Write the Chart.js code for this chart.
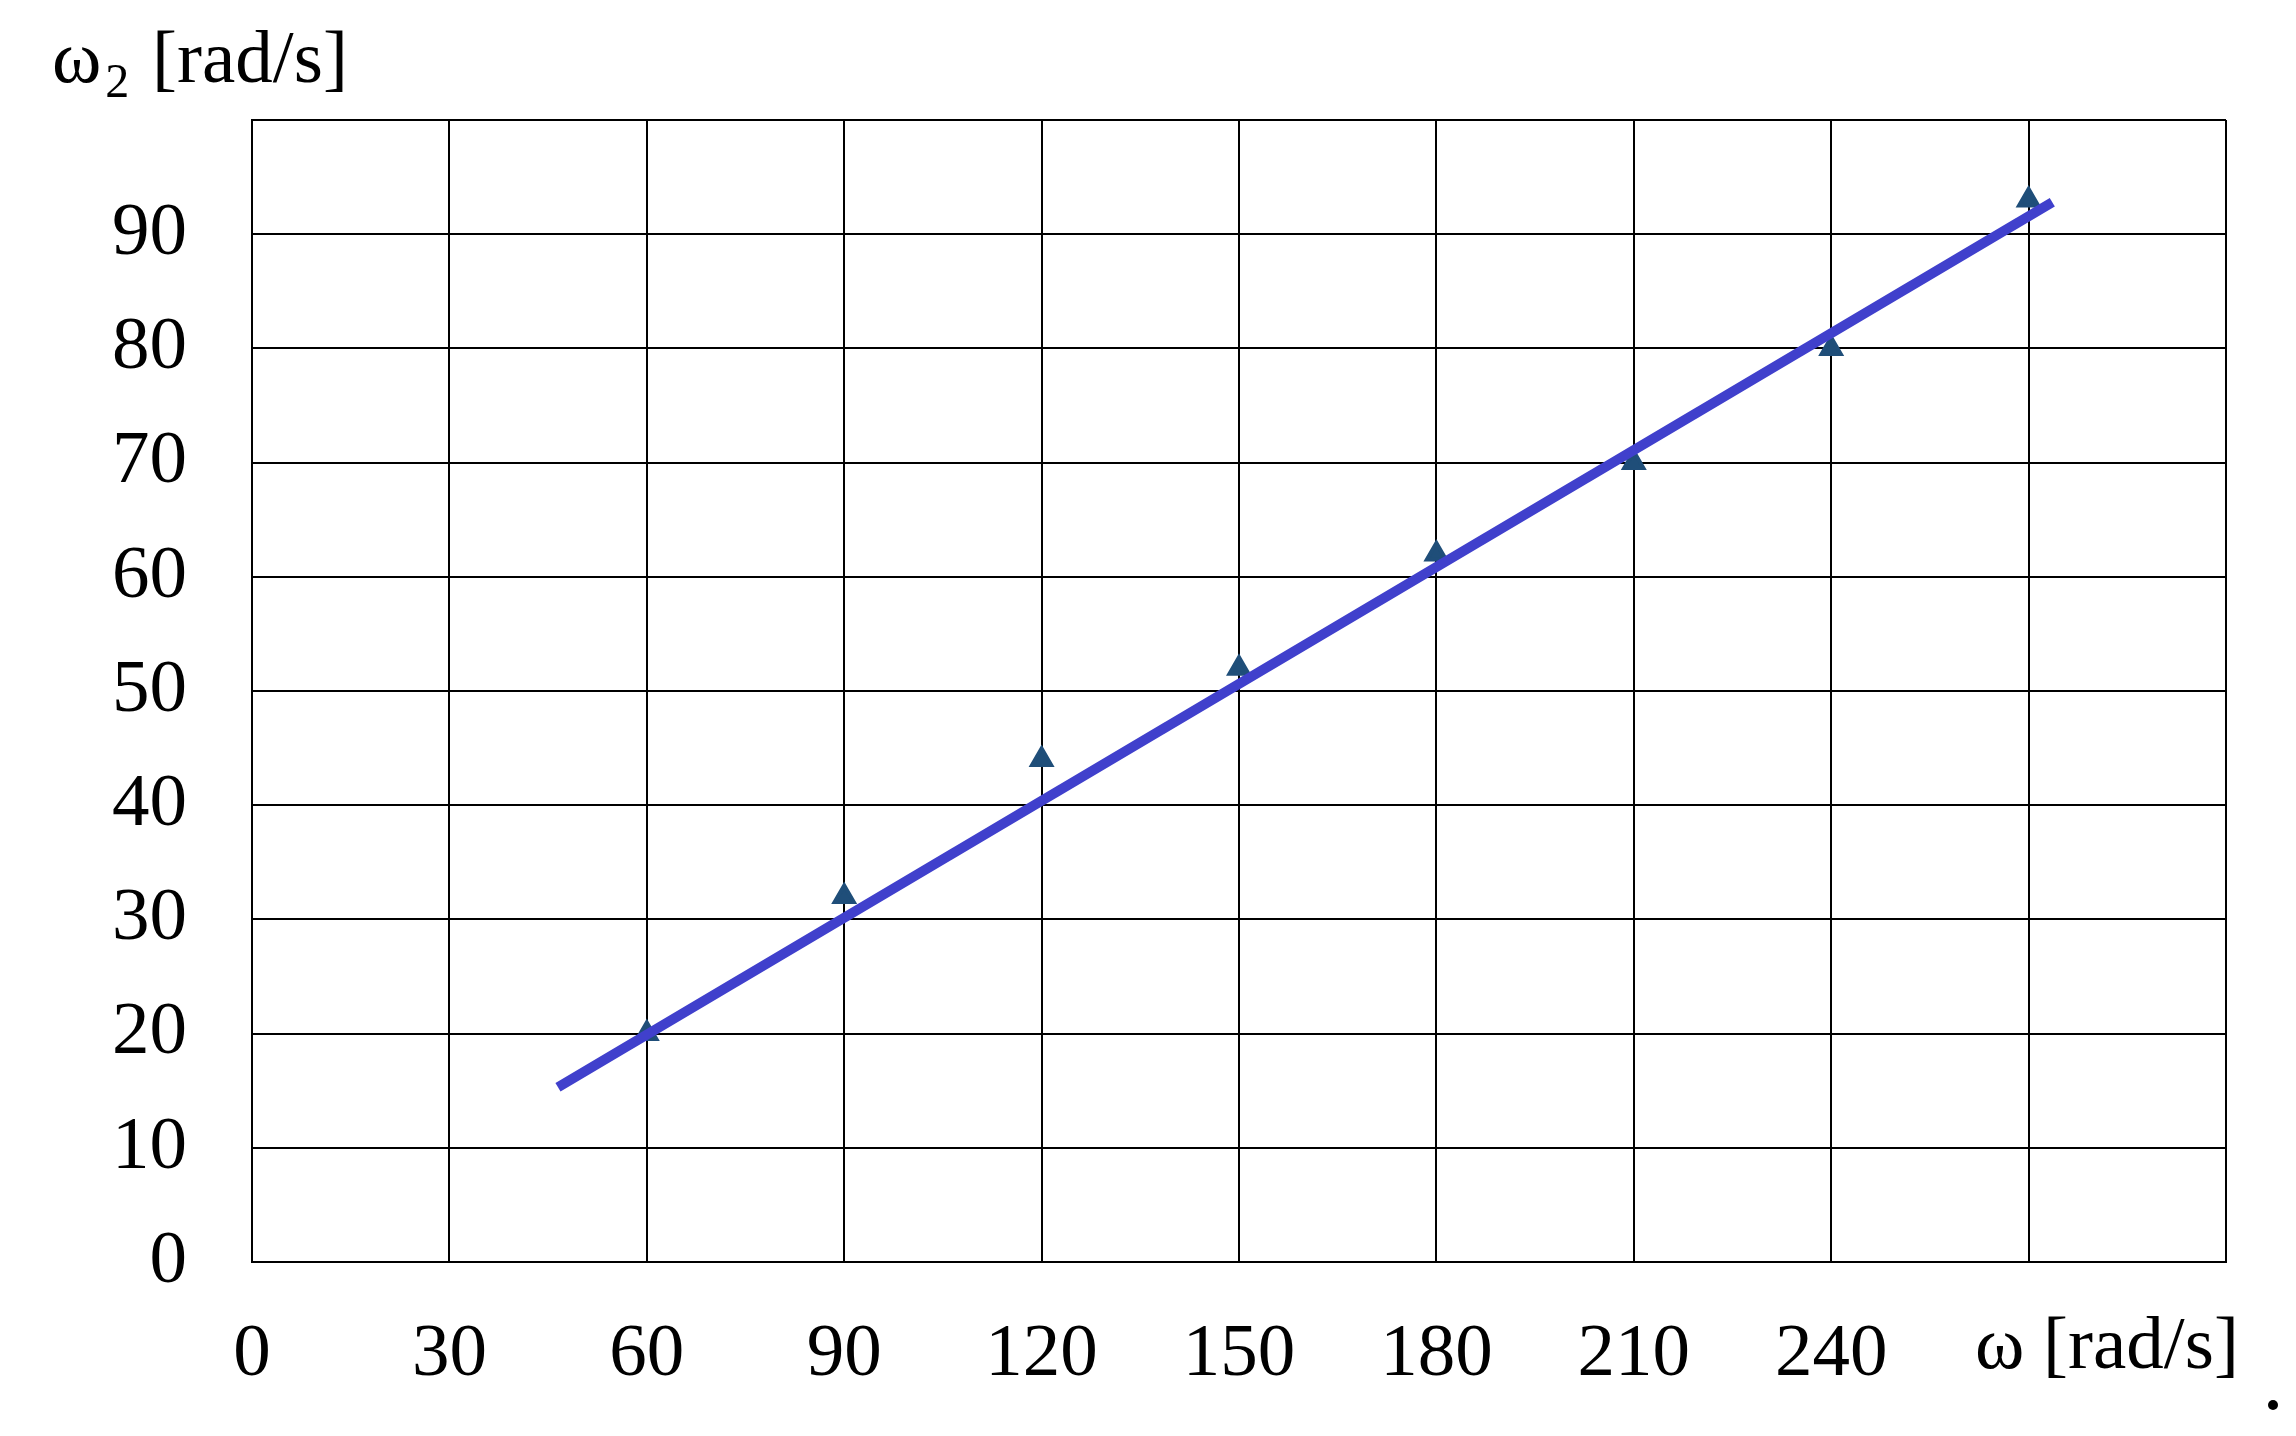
<!DOCTYPE html>
<html>
<head>
<meta charset="utf-8">
<script src="https://cdn.jsdelivr.net/npm/chart.js@4/dist/chart.umd.min.js"></script>
<style>
  html, body { margin: 0; padding: 0; background: #fff; }
  #wrap { width: 2296px; height: 1436px; }
</style>
</head>
<body>
<div id="wrap"><canvas id="chart-omega"></canvas></div>
<script>
// measured points
const omega = [60, 90, 120, 150, 180, 210, 240, 270];
const omega2 = [20, 32, 44, 52, 62, 70, 80, 93];

// fitted line, end points
const fitX = [46.5, 273.6];
const fitY = [15.3, 92.8];

// axis ticks
const xTicks = [0, 30, 60, 90, 120, 150, 180, 210, 240, 270, 300];
const xHidden = [270, 300];
const yHidden = [100];

const serif = `"Liberation Serif", "DejaVu Serif", serif`;

// axis titles drawn by hand, like in the original figure
const axisTitles = {
  id: `axisTitles`,
  afterDraw(chart) {
    const ctx = chart.ctx;
    ctx.save();
    ctx.fillStyle = `#000`;
    ctx.textBaseline = `alphabetic`;
    ctx.textAlign = `left`;

    // y title
    ctx.font = `75px ${serif}`;
    ctx.fillText(`ω`, 52, 82);
    const wW = ctx.measureText(`ω`).width;
    ctx.font = `48px ${serif}`;
    ctx.fillText(`2`, 52 + wW + 4, 97);
    const w2 = ctx.measureText(`2`).width;
    ctx.font = `75px ${serif}`;
    ctx.fillText(` [rad/s]`, 52 + wW + 4 + w2 + 4, 82);

    // x title
    ctx.fillText(`ω [rad/s]`, 1975, 1368);

    // stray dot at the end
    ctx.beginPath();
    ctx.arc(2273, 1405, 5, 0, Math.PI * 2);
    ctx.fill();
    ctx.restore();
  }
};

const ctxOmega = document.getElementById(`chart-omega`);
const chartOmega = new Chart(ctxOmega, {
  type: `scatter`,
  data: {
    datasets: [{
      label: `fit`,
      data: fitX.map((x, i) => ({ x: x, y: fitY[i] })),
      showLine: true,
      borderColor: `#4040CC`,
      borderWidth: 10,
      pointRadius: 0,
      order: 0,
    }, {
      label: `measured`,
      data: omega.map((x, i) => ({ x: x, y: omega2[i] })),
      pointStyle: `triangle`,
      pointRadius: 11,
      backgroundColor: `#1F4E79`,
      borderColor: `#1F4E79`,
      borderWidth: 4,
      order: 1,
    }]
  },
  options: {
    responsive: true,
    maintainAspectRatio: false,
    animation: false,
    layout: {
      padding: { left: 0, top: 120, right: 70, bottom: 0 }
    },
    plugins: {
      legend: { display: false },
      tooltip: { enabled: false },
    },
    scales: {
      x: {
        type: `linear`,
        min: 0,
        max: 300,
        afterBuildTicks: (scale) => {
          scale.ticks = xTicks.map(v => ({ value: v }));
        },
        afterFit: (scale) => { scale.height = 174; },
        grid: { color: `#000`, lineWidth: 2, drawTicks: false },
        border: { color: `#000`, width: 2 },
        ticks: {
          color: `#000`,
          font: { family: serif, size: 75 },
          padding: 48,
          maxRotation: 0,
          autoSkip: false,
          callback: (v) => xHidden.includes(v) ? `` : String(v),
        }
      },
      y: {
        min: 0,
        max: 100,
        afterFit: (scale) => { scale.width = 252; },
        grid: { color: `#000`, lineWidth: 2, drawTicks: false },
        border: { color: `#000`, width: 2 },
        ticks: {
          stepSize: 10,
          color: `#000`,
          font: { family: serif, size: 75 },
          padding: 65,
          callback: (v) => yHidden.includes(v) ? `` : String(v),
        }
      }
    }
  },
  plugins: [axisTitles]
});
</script>
</body>
</html>
